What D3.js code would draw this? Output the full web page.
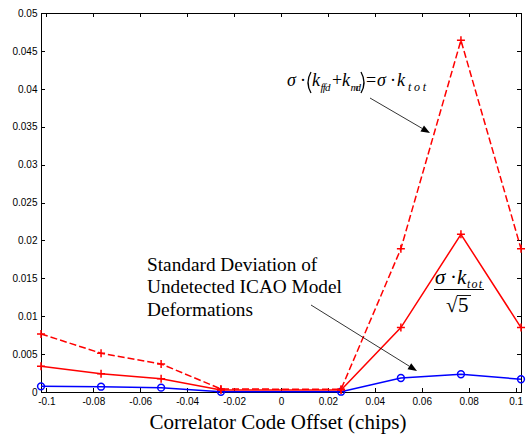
<!DOCTYPE html>
<html>
<head>
<meta charset="utf-8">
<script src="https://cdn.jsdelivr.net/npm/d3@7/dist/d3.min.js"></script>
<style>
  html, body { margin: 0; padding: 0; background: #fff; }
  svg { display: block; }
</style>
</head>
<body>
<svg id="chart" width="526" height="437"></svg>
<script>
// ---- data ----
const offsets = [-0.1023, -0.0767, -0.0511, -0.0256, 0.0256, 0.0511, 0.0767, 0.1023];
const sigmaKtot = [0.00766, 0.00511, 0.0037, 0.0004, 0.00035, 0.0189, 0.0464, 0.0189];
const sigmaKtotSqrt5 = [0.0034, 0.0024, 0.00176, 0.00026, 0.00025, 0.0085, 0.0208, 0.0085];
const undetectedICAO = [0.00075, 0.0007, 0.00057, 0.00002, 0.00004, 0.00185, 0.00234, 0.00168];
const xTickValues = [-0.1, -0.08, -0.06, -0.04, -0.02, 0, 0.02, 0.04, 0.06, 0.08, 0.1];
const xTickLabels = ["-0.1", "-0.08", "-0.06", "-0.04", "-0.02", "0", "0.02", "0.04", "0.06", "0.08", "0.1"];
const yTickValues = [0, 0.005, 0.01, 0.015, 0.02, 0.025, 0.03, 0.035, 0.04, 0.045, 0.05];
const yTickLabels = ["0", "0.005", "0.01", "0.015", "0.02", "0.025", "0.03", "0.035", "0.04", "0.045", "0.05"];
const xTitle = "Correlator Code Offset (chips)";
const noteLines = ["Standard Deviation of", "Undetected ICAO Model", "Deformations"];

// ---- layout ----
const L = 41, R = 521, T = 13, B = 392;
const svg = d3.select("#chart");
const x = d3.scaleLinear().domain([-0.1023, 0.1023]).range([L, R]);
const y = d3.scaleLinear().domain([0, 0.05]).range([B, T]);
const SANS = "'Liberation Sans', Arial, sans-serif";
const SERIF = "'Liberation Serif', 'Times New Roman', serif";

function styleAxis(g) {
  g.select(".domain").remove();
  g.selectAll(".tick line").attr("stroke", "#000").attr("stroke-width", 1).attr("shape-rendering", "crispEdges");
  g.selectAll(".tick text").attr("fill", "#000").style("font-family", SANS).style("font-size", "10px");
}

svg.append("g").attr("transform", `translate(0,${B})`)
  .call(d3.axisBottom(x).tickValues(xTickValues).tickFormat((d, i) => xTickLabels[i]).tickSizeInner(-4).tickSizeOuter(0).tickPadding(5.5))
  .call(styleAxis);
svg.append("g").attr("transform", `translate(0,${T})`)
  .call(d3.axisTop(x).tickValues(xTickValues).tickFormat("").tickSizeInner(-4).tickSizeOuter(0))
  .call(styleAxis);
svg.append("g").attr("transform", `translate(${L},0)`)
  .call(d3.axisLeft(y).tickValues(yTickValues).tickFormat((d, i) => yTickLabels[i]).tickSizeInner(-4).tickSizeOuter(0).tickPadding(3.5))
  .call(styleAxis);
svg.append("g").attr("transform", `translate(${R},0)`)
  .call(d3.axisRight(y).tickValues(yTickValues).tickFormat("").tickSizeInner(-4).tickSizeOuter(0))
  .call(styleAxis);

svg.append("rect").attr("x", L).attr("y", T).attr("width", R - L).attr("height", B - T)
  .attr("fill", "none").attr("stroke", "#000").attr("stroke-width", 1).attr("shape-rendering", "crispEdges");

// ---- series ----
const line = d3.line().x(d => x(d[0])).y(d => y(d[1]));
function series(vals, color, dash, marker) {
  const pts = offsets.map((o, i) => [o, vals[i]]);
  svg.append("path").datum(pts).attr("d", line).attr("fill", "none")
    .attr("stroke", color).attr("stroke-width", 1.5).attr("stroke-dasharray", dash);
  const g = svg.append("g");
  if (marker === "o") {
    g.selectAll("circle").data(pts).join("circle")
      .attr("cx", d => x(d[0])).attr("cy", d => y(d[1])).attr("r", 3.4)
      .attr("fill", "none").attr("stroke", color).attr("stroke-width", 1.5);
  } else {
    g.selectAll("path").data(pts).join("path")
      .attr("d", d => { const cx = x(d[0]), cy = y(d[1]); return `M${cx - 4},${cy}H${cx + 4}M${cx},${cy - 4}V${cy + 4}`; })
      .attr("stroke", color).attr("stroke-width", 1.5).attr("fill", "none");
  }
}
series(undetectedICAO, "#0000ff", null, "o");
series(sigmaKtotSqrt5, "#ff0000", null, "+");
series(sigmaKtot, "#ff0000", "7,3", "+");

// ---- x title ----
svg.append("text").attr("x", 278).attr("y", 429).attr("text-anchor", "middle")
  .style("font-family", SERIF).style("font-size", "21px").attr("fill", "#000").text(xTitle);

// ---- annotations ----
function piece(txt, px, py, size, italic, len) {
  const t = svg.append("text").attr("x", px).attr("y", py)
    .style("font-family", SERIF).style("font-size", size + "px")
    .style("font-style", italic ? "italic" : "normal").attr("fill", "#000").text(txt);
  if (len) t.attr("textLength", len).attr("lengthAdjust", "spacing");
  return t;
}
function paren(px, dir) {
  svg.append("path").attr("d", `M${px},72 Q${px - dir * 6},82.5 ${px},93`)
    .attr("fill", "none").attr("stroke", "#000").attr("stroke-width", 1.3);
}
// top formula
piece("σ", 287, 86, 18, true);
piece("·", 300, 86, 18, false);
paren(311, 1);
piece("k", 312, 86, 18, true);
piece("ffd", 320.5, 91, 11, true, 10);
piece("+", 332, 86, 18, false);
piece("k", 342, 86, 18, true);
piece("md", 350.5, 91, 11, true, 10.5);
paren(361, -1);
piece("=", 366, 86, 18, false);
piece("σ", 377, 86, 18, true);
piece("·", 390, 86, 18, false);
piece("k", 397, 86, 18, true);
piece("tot", 408, 91, 12, true, 18);

// fraction
piece("σ", 435, 284, 21, true);
piece("·", 450, 284, 21, false);
piece("k", 457, 284, 21, true);
piece("tot", 467, 287.5, 12, true, 15);
svg.append("line").attr("x1", 434).attr("x2", 484).attr("y1", 289.5).attr("y2", 289.5).attr("stroke", "#000").attr("stroke-width", 1);
piece("√", 446, 312, 21, false);
piece("5", 458, 312, 21, false);
svg.append("line").attr("x1", 457).attr("x2", 471).attr("y1", 295.5).attr("y2", 295.5).attr("stroke", "#000").attr("stroke-width", 0.9);

// note text
noteLines.forEach((s, i) => {
  svg.append("text").attr("x", 147).attr("y", [271, 293, 316][i])
    .style("font-family", SERIF).style("font-size", "19.3px").attr("fill", "#000").text(s);
});

// arrows
function arrow(x1, y1, x2, y2) {
  const a = Math.atan2(y2 - y1, x2 - x1), len = 9, hw = 3.5;
  const bx = x2 - len * Math.cos(a), by = y2 - len * Math.sin(a);
  svg.append("line").attr("x1", x1).attr("y1", y1).attr("x2", bx).attr("y2", by).attr("stroke", "#000").attr("stroke-width", 0.8);
  const px = -Math.sin(a) * hw, py = Math.cos(a) * hw;
  svg.append("path").attr("d", `M${x2},${y2}L${bx + px},${by + py}L${bx - px},${by - py}Z`).attr("fill", "#000");
}
arrow(370, 98, 430, 133);
arrow(311, 305, 417, 371);
</script>
</body>
</html>
